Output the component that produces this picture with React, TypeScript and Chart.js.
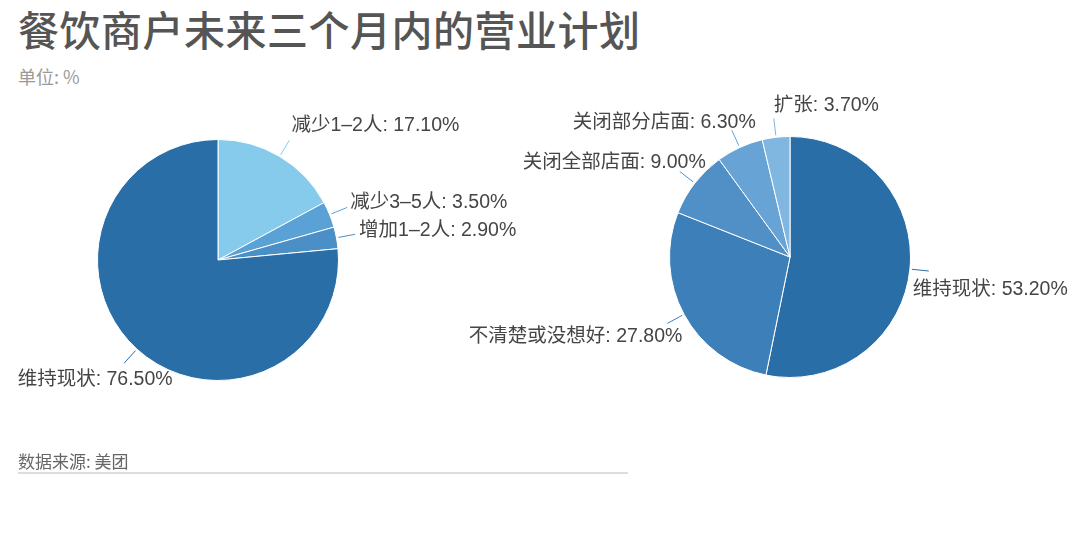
import React, { useEffect, useRef } from "react";
import { Chart, registerables } from "chart.js";

Chart.register(...registerables);

const titleText = "餐饮商户未来三个月内的营业计划";
const unitText = "单位: %";
const sourceText = "数据来源: 美团";

const staffCategories = ["减少1–2人", "减少3–5人", "增加1–2人", "维持现状"];
const staffValues = [17.1, 3.5, 2.9, 76.5];
const staffColors = ["#87cbec", "#5aa2d6", "#4a8fc6", "#2a6ea8"];

const planCategories = ["维持现状", "不清楚或没想好", "关闭全部店面", "关闭部分店面", "扩张"];
const planValues = [53.2, 27.8, 9.0, 6.3, 3.7];
const planColors = ["#2a6ea8", "#3d7fb8", "#5090c7", "#67a3d4", "#7fb7e0"];

// label placement relative to the end of each leader line
const staffLabelLayout = [
  { align: "left", dx: 2, dy: -15 },
  { align: "left", dx: 3, dy: -5 },
  { align: "left", dx: 4, dy: -4 },
  { align: "center", dx: -29, dy: 16 },
];
const planLabelLayout = [
  { align: "left", dx: -16, dy: 19 },
  { align: "right", dx: 15, dy: 13 },
  { align: "right", dx: 26, dy: -9 },
  { align: "right", dx: 24, dy: -8 },
  { align: "left", dx: 0, dy: -13 },
];

const W = 1080;
const H = 533;
const LABEL_FONT = '19.5px "Liberation Sans", "Noto Sans CJK SC", sans-serif';

const pieLabelPlugin = {
  id: "pieLabels",
  afterDatasetsDraw(chart: any, _args: any, opts: any) {
    const { ctx } = chart;
    const meta = chart.getDatasetMeta(0);
    const ds = chart.data.datasets[0];
    const labels = chart.data.labels as string[];
    ctx.save();
    ctx.font = LABEL_FONT;
    ctx.textBaseline = "middle";
    meta.data.forEach((arc: any, i: number) => {
      const p = arc.getProps(["x", "y", "startAngle", "endAngle", "outerRadius"], true);
      const mid = (p.startAngle + p.endAngle) / 2;
      const c = Math.cos(mid);
      const s = Math.sin(mid);
      const x1 = p.x + c * (p.outerRadius + 2);
      const y1 = p.y + s * (p.outerRadius + 2);
      const x2 = p.x + c * (p.outerRadius + 19);
      const y2 = p.y + s * (p.outerRadius + 19);
      ctx.strokeStyle = ds.backgroundColor[i];
      ctx.lineWidth = 1;
      ctx.beginPath();
      ctx.moveTo(x1, y1);
      ctx.lineTo(x2, y2);
      ctx.stroke();
      const lay = opts.layout[i];
      ctx.textAlign = lay.align;
      ctx.fillStyle = "#454545";
      const v = (ds.data[i] as number).toFixed(2);
      ctx.fillText(`${labels[i]}: ${v}%`, x2 + lay.dx, y2 + lay.dy);
    });
    ctx.restore();
  },
};

function makePie(
  canvas: HTMLCanvasElement,
  labels: string[],
  values: number[],
  colors: string[],
  padding: { left: number; right: number; top: number; bottom: number },
  layout: any[]
) {
  return new Chart(canvas, {
    type: "pie",
    data: {
      labels,
      datasets: [
        {
          data: values,
          backgroundColor: colors,
          borderColor: "#ffffff",
          borderWidth: 1,
        },
      ],
    },
    options: {
      responsive: false,
      animation: false,
      devicePixelRatio: 1,
      events: [],
      layout: { padding },
      plugins: {
        legend: { display: false },
        tooltip: { enabled: false },
        title: { display: false },
        pieLabels: { layout },
      } as any,
    },
    plugins: [pieLabelPlugin],
  });
}

export default function App() {
  const leftRef = useRef<HTMLCanvasElement>(null);
  const rightRef = useRef<HTMLCanvasElement>(null);

  useEffect(() => {
    const left = makePie(
      leftRef.current!,
      staffCategories,
      staffValues,
      staffColors,
      { left: 97, right: W - 97 - 242, top: 139, bottom: H - 139 - 242 },
      staffLabelLayout
    );
    const right = makePie(
      rightRef.current!,
      planCategories,
      planValues,
      planColors,
      { left: 669, right: W - 669 - 242, top: 136, bottom: H - 136 - 242 },
      planLabelLayout
    );
    return () => {
      left.destroy();
      right.destroy();
    };
  }, []);

  const font = '"Noto Sans CJK SC", "Liberation Sans", sans-serif';
  return (
    <div
      style={{
        position: "fixed",
        left: 0,
        top: 0,
        width: W,
        height: H,
        background: "#ffffff",
        overflow: "hidden",
        fontFamily: font,
      }}
    >
      <div
        style={{
          position: "absolute",
          left: 18,
          top: 8,
          fontSize: 41,
          lineHeight: "41px",
          fontWeight: 500,
          color: "#555555",
          letterSpacing: 0.5,
          whiteSpace: "nowrap",
        }}
      >
        {titleText}
      </div>
      <div
        style={{
          position: "absolute",
          left: 18,
          top: 67,
          fontSize: 18,
          lineHeight: "18px",
          color: "#9a9a9a",
          whiteSpace: "nowrap",
        }}
      >
        {unitText}
      </div>
      <canvas
        ref={leftRef}
        width={W}
        height={H}
        style={{ position: "absolute", left: 0, top: 0, width: W, height: H }}
      />
      <canvas
        ref={rightRef}
        width={W}
        height={H}
        style={{ position: "absolute", left: 0, top: 0, width: W, height: H }}
      />
      <div
        style={{
          position: "absolute",
          left: 18,
          top: 452,
          fontSize: 17,
          lineHeight: "17px",
          color: "#666666",
          whiteSpace: "nowrap",
        }}
      >
        {sourceText}
      </div>
      <div
        style={{
          position: "absolute",
          left: 18,
          top: 472,
          width: 610,
          height: 2,
          background: "#dddddd",
        }}
      />
    </div>
  );
}
